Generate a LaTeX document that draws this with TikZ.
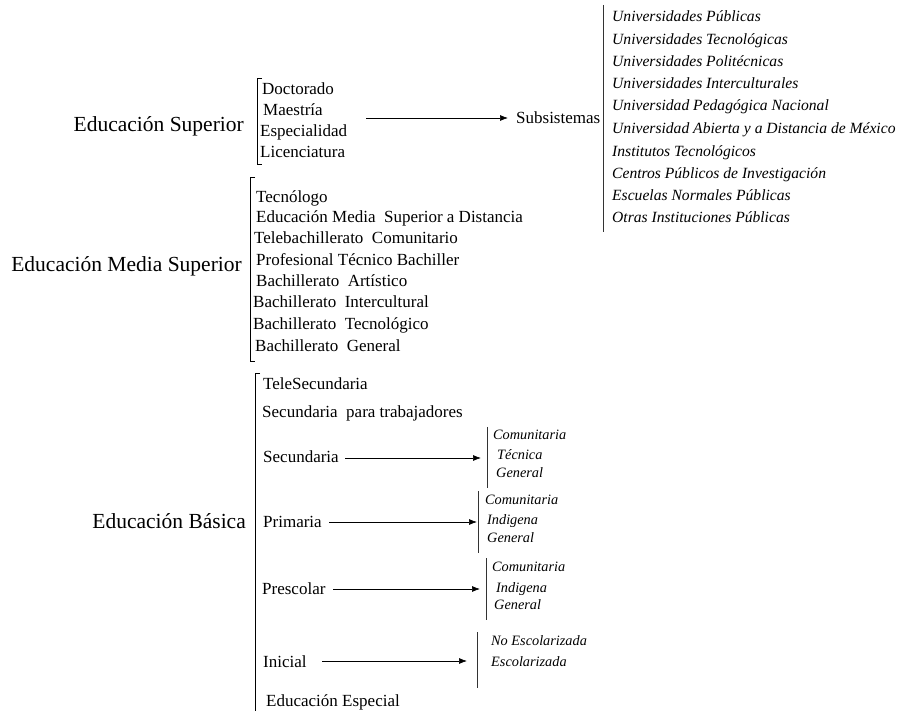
\documentclass[tikz,border=0pt]{standalone}
\usepackage{fontspec}
\setmainfont{Liberation Serif}
\usetikzlibrary{arrows.meta,positioning,calc}

\begin{document}
\begin{tikzpicture}[x=1pt,y=-1pt]
\tikzset{
    level/.style={anchor=base east,inner sep=0pt,font=\fontsize{21.5}{24}\selectfont},
    item/.style={anchor=base west,inner sep=0pt,font=\fontsize{17}{20}\selectfont},
    inst/.style={anchor=base west,inner sep=0pt,font=\fontsize{15.6}{18}\selectfont\itshape},
    kind/.style={anchor=base west,inner sep=0pt,font=\fontsize{14.3}{16}\selectfont\itshape},
    edge/.style={-{Latex[length=8pt,width=6pt]},line width=0.7pt},
    brace/.style={line width=1pt},
    rule/.style={line width=0.7pt,black!80}
}
\useasboundingbox (0,0) rectangle (903,711);
  % levels
\node[level] (sup) at (244,132) {Educación Superior};
\node[level] (med) at (242,272) {Educación Media Superior};
\node[level] (bas) at (246,528) {Educación Básica};
  % superior
\node[item] (doc) at (262,95) {Doctorado};
\node[item] (mae) at (263,116) {Maestría};
\node[item] (esp) at (260,137) {Especialidad};
\node[item] (lic) at (260,158) {Licenciatura};
\node[item] (subs) at (516,124) {Subsistemas};
\node[inst] (u1) at (612,22) {Universidades Públicas};
\node[inst] (u2) at (612,45) {Universidades Tecnológicas};
\node[inst] (u3) at (612,67) {Universidades Politécnicas};
\node[inst] (u4) at (612,89) {Universidades Interculturales};
\node[inst] (u5) at (612,111) {Universidad Pedagógica Nacional};
\node[inst] (u6) at (612,134) {Universidad Abierta y a Distancia de México};
\node[inst] (u7) at (612,157) {Institutos Tecnológicos};
\node[inst] (u8) at (612,179) {Centros Públicos de Investigación};
\node[inst] (u9) at (612,201) {Escuelas Normales Públicas};
\node[inst] (u10) at (612,223) {Otras Instituciones Públicas};
  % media superior
\node[item] (m1) at (256,203) {Tecnólogo};
\node[item] (m2) at (256,223) {Educación Media~ Superior a Distancia};
\node[item] (m3) at (254,244) {Telebachillerato~ Comunitario};
\node[item] (m4) at (256,266) {Profesional Técnico Bachiller};
\node[item] (m5) at (256,287) {Bachillerato~ Artístico};
\node[item] (m6) at (253,308) {Bachillerato~ Intercultural};
\node[item] (m7) at (253,330) {Bachillerato~ Tecnológico};
\node[item] (m8) at (255,352) {Bachillerato~ General};
  % basica
\node[item] (b1) at (263,390) {TeleSecundaria};
\node[item] (b2) at (262,418) {Secundaria~ para trabajadores};
\node[item] (sec) at (263,463) {Secundaria};
\node[item] (pri) at (263,527) {Primaria};
\node[item] (pre) at (262,594) {Prescolar};
\node[item] (ini) at (263,667) {Inicial};
\node[item] (b7) at (266,706) {Educación Especial};
\node[kind] (s1) at (493,439) {Comunitaria};
\node[kind] (s2) at (497,460) {Técnica};
\node[kind] (s3) at (496,477) {General};
\node[kind] (p1) at (485,504) {Comunitaria};
\node[kind] (p2) at (487,524) {Indigena};
\node[kind] (p3) at (487,542) {General};
\node[kind] (r1) at (492,571) {Comunitaria};
\node[kind] (r2) at (496,592) {Indigena};
\node[kind] (r3) at (494,609) {General};
\node[kind] (i1) at (491,645) {No Escolarizada};
\node[kind] (i2) at (491,666) {Escolarizada};
  % brackets
\draw[brace] (262,79) -- (257,79) -- (257,165) -- (262,165);
\draw[brace] (255,178) -- (250,178) -- (250,362) -- (255,362);
\draw[brace] (260,374) -- (255,374) -- (255,711);
\draw[rule] (603,5) -- (603,232);
\draw[rule] (487,427) -- (487,488);
\draw[rule] (478,491) -- (478,553);
\draw[rule] (486,558) -- (486,620);
\draw[rule] (477,632) -- (477,688);
  % arrows
\coordinate (supA) at (366,118);
\coordinate (secA) at (345,458);
\coordinate (secB) at (481,458);
\coordinate (priA) at (329,522);
\coordinate (priB) at (477,522);
\coordinate (preA) at (333,589);
\coordinate (preB) at (480,589);
\coordinate (iniA) at (322,661);
\coordinate (iniB) at (467,661);
\path
(supA) edge[edge,shorten >=8pt] (subs.west |- supA)
(secA) edge[edge] (secB)
(priA) edge[edge] (priB)
(preA) edge[edge] (preB)
(iniA) edge[edge] (iniB)
;
\end{tikzpicture}
\end{document}
